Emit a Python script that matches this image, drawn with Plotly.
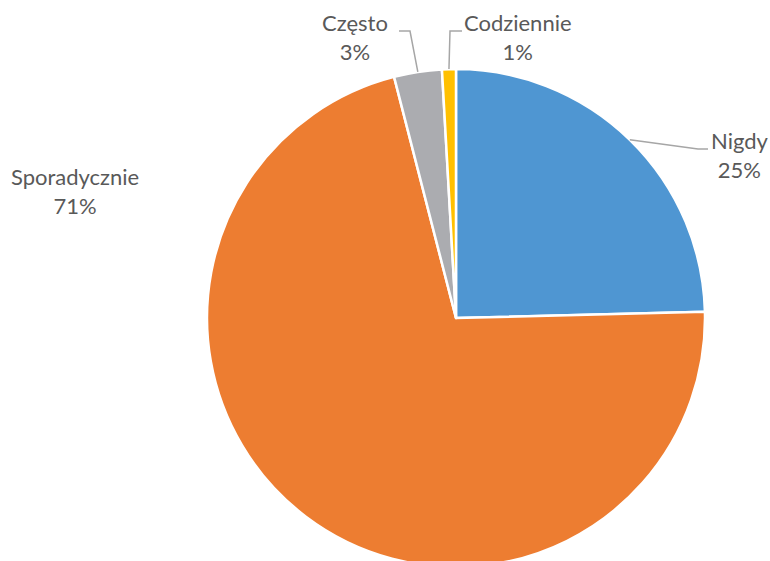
import math
import plotly.graph_objects as go

# ---- data ----
labels = ["Nigdy", "Sporadycznie", "Często", "Codziennie"]
values = [24.6, 71.4, 3.1, 0.9]
pct_text = ["25%", "71%", "3%", "1%"]
colors = ["#4F96D2", "#ED7D31", "#ABACB0", "#FFC000"]

# ---- layout constants (pixels) ----
W, H = 770, 572          # figure a little taller than the window so the pie bottom is clipped
CX, CY, R = 456, 318, 249

fig = go.Figure(go.Pie(
    labels=labels, values=values, sort=False, direction="clockwise", rotation=0,
    marker=dict(colors=colors, line=dict(color="white", width=2.5)),
    textinfo="none", hoverinfo="label+percent", showlegend=False,
    domain=dict(x=[(CX - R) / W, (CX + R) / W], y=[(H - CY - R) / H, (H - CY + R) / H]),
))

def px(x):
    return x / W

def py(y):
    return 1 - y / H

# label placement (text centre) and leader-line elbows, in pixels
label_pos = {"Nigdy": (740, 155), "Sporadycznie": (75, 191), "Często": (355, 37), "Codziennie": (518, 37)}
elbows = {"Nigdy": [(698, 149), (708, 149)], "Często": [(410, 31), (399, 31)],
          "Codziennie": [(450, 31), (462, 31)]}

total = sum(values)
cum = 0
for lab, v, t in zip(labels, values, pct_text):
    mid = (cum + v / 2) / total * 2 * math.pi
    cum += v
    ex, ey = CX + R * math.sin(mid), CY - R * math.cos(mid)
    fig.add_annotation(x=px(label_pos[lab][0]), y=py(label_pos[lab][1]), xref="paper", yref="paper",
                       text=f"{lab}<br>{t}", showarrow=False, xanchor="center", yanchor="middle",
                       font=dict(family="Lato", size=22, color="#595959"))
    if lab in elbows:
        pts = [(ex, ey)] + elbows[lab]
        path = "M " + " L ".join(f"{px(x)},{py(y)}" for x, y in pts)
        fig.add_shape(type="path", path=path, xref="paper", yref="paper",
                      line=dict(color="#A6A6A6", width=1.5))

fig.update_layout(width=W, height=H, margin=dict(l=0, r=0, t=0, b=0),
                  paper_bgcolor="white", plot_bgcolor="white")
fig.write_html("out.html", config={"displayModeBar": False},
               post_script="document.body.style.margin='0px';document.body.style.overflow='hidden';")
